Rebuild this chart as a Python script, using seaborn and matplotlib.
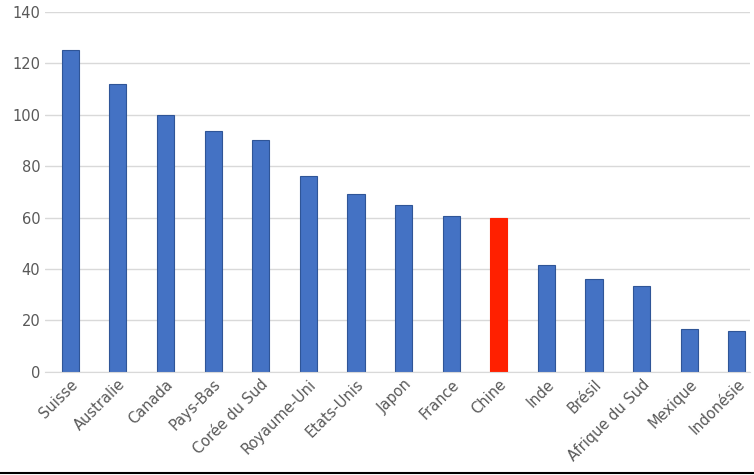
import matplotlib
matplotlib.use("Agg")
import matplotlib.pyplot as plt
import seaborn as sns

countries = ['Suisse', 'Australie', 'Canada', 'Pays-Bas', 'Corée du Sud', 'Royaume-Uni',
             'Etats-Unis', 'Japon', 'France', 'Chine', 'Inde', 'Brésil',
             'Afrique du Sud', 'Mexique', 'Indonésie']
values = [125, 112, 100, 93.5, 90, 76, 69, 65, 60.5, 60, 41.5, 36, 33.5, 16.5, 16]
colors = ['#4472C4'] * len(countries)
colors[countries.index('Chine')] = '#FF2000'

sns.set_style('white')
plt.rcParams['font.family'] = ['DejaVu Sans']

fig = plt.figure(figsize=(7.54, 4.75), dpi=100)
ax = fig.add_axes([0.06, 0.217, 0.935, 0.758])
sns.barplot(x=countries, y=values, hue=countries, palette=colors, legend=False,
            width=0.36, linewidth=0.8, saturation=1, ax=ax)
for patch, c in zip(ax.patches, colors):
    patch.set_edgecolor('#2F5597' if c == '#4472C4' else c)
ax.set_ylim(0, 140)
ax.set_yticks(range(0, 141, 20))
ax.yaxis.grid(True, color='#D9D9D9', linewidth=1)
ax.set_axisbelow(True)
for s in ['top', 'right', 'left']:
    ax.spines[s].set_visible(False)
ax.spines['bottom'].set_color('#D9D9D9')
ax.tick_params(axis='both', length=0, colors='#595959', labelsize=10.5)
plt.setp(ax.get_xticklabels(), rotation=45, ha='right', rotation_mode='anchor')
ax.set_xlim(-0.525, 14.28)
fig.add_artist(plt.Line2D([0, 1], [0.004, 0.004], color='black', linewidth=1.5))
fig.savefig('out.png', dpi=100)
